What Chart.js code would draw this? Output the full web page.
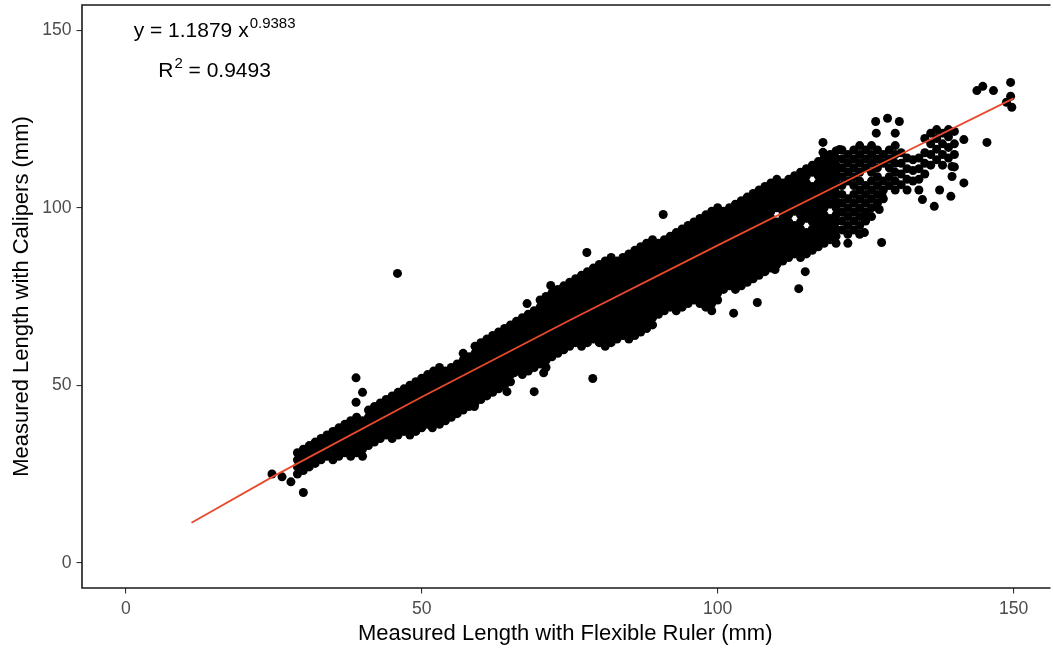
<!DOCTYPE html>
<html>
<head>
<meta charset="utf-8">
<script src="https://cdn.jsdelivr.net/npm/chart.js@4.4.1/dist/chart.umd.min.js"></script>
<style>
html, body { margin: 0; padding: 0; background: #fff; }
</style>
</head>
<body>
<canvas id="chart" width="1053" height="651"></canvas>
<script>
// tick labels
const xTicks = [0, 50, 100, 150];
const yTicks = [0, 50, 100, 150];

// fitted power curve
const fitX = [11.1, 25, 50, 75, 100, 125, 150];
const fitY = [11.3, 24.4, 46.7, 68.3, 89.4, 110.2, 130.8];

// dense cloud, one column per ruler length: [x, y, y, ...]
const cloudCols = [
    [29, 25, 27, 29, 31],
    [30, 26, 28, 30, 32],
    [31, 27, 29, 31, 33],
    [32, 28, 30, 32, 34],
    [33, 29, 31, 33, 35],
    [34, 30, 32, 34, 36],
    [35, 29, 31, 33, 35, 37],
    [36, 30, 32, 34, 36, 38],
    [37, 31, 33, 35, 37, 39],
    [38, 30, 32, 34, 36, 38, 40],
    [39, 31, 33, 35, 37, 39, 41],
    [40, 30, 32, 34, 36, 38, 40],
    [41, 33, 35, 37, 39, 41, 43],
    [42, 34, 36, 38, 40, 42, 44],
    [43, 35, 37, 39, 41, 43, 45],
    [44, 36, 38, 40, 42, 44, 46],
    [45, 35, 37, 39, 41, 43, 45, 47],
    [46, 36, 38, 40, 42, 44, 46, 48],
    [47, 37, 39, 41, 43, 45, 47, 49],
    [48, 36, 38, 40, 42, 44, 46, 48, 50],
    [49, 37, 39, 41, 43, 45, 47, 49, 51],
    [50, 38, 40, 42, 44, 46, 48, 50, 52],
    [51, 39, 41, 43, 45, 47, 49, 51, 53],
    [52, 40, 42, 44, 46, 48, 50, 52, 54],
    [53, 39, 41, 43, 45, 47, 49, 51, 53, 55],
    [54, 40, 42, 44, 46, 48, 50, 52, 54],
    [55, 41, 43, 45, 47, 49, 51, 53, 55],
    [56, 42, 44, 46, 48, 50, 52, 54, 56],
    [57, 43, 45, 47, 49, 51, 53, 55, 57, 59],
    [58, 44, 46, 48, 50, 52, 54, 56, 58],
    [59, 45, 47, 49, 51, 53, 55, 57, 59, 61],
    [60, 46, 48, 50, 52, 54, 56, 58, 60, 62],
    [61, 47, 49, 51, 53, 55, 57, 59, 61, 63],
    [62, 48, 50, 52, 54, 56, 58, 60, 62, 64],
    [63, 49, 51, 53, 55, 57, 59, 61, 63, 65],
    [64, 50, 52, 54, 56, 58, 60, 62, 64, 66],
    [65, 51, 53, 55, 57, 59, 61, 63, 65, 67],
    [66, 54, 56, 58, 60, 62, 64, 66, 68],
    [67, 53, 55, 57, 59, 61, 63, 65, 67, 69],
    [68, 54, 56, 58, 60, 62, 64, 66, 68, 70],
    [69, 55, 57, 59, 61, 63, 65, 67, 69, 71],
    [70, 56, 58, 60, 62, 64, 66, 68, 70, 72, 74],
    [71, 55, 57, 59, 61, 63, 65, 67, 69, 71, 73, 75],
    [72, 58, 60, 62, 64, 66, 68, 70, 72, 74, 76],
    [73, 59, 61, 63, 65, 67, 69, 71, 73, 75, 77],
    [74, 60, 62, 64, 66, 68, 70, 72, 74, 76, 78],
    [75, 61, 63, 65, 67, 69, 71, 73, 75, 77, 79],
    [76, 62, 64, 66, 68, 70, 72, 74, 76, 78, 80],
    [77, 61, 63, 65, 67, 69, 71, 73, 75, 77, 79, 81],
    [78, 62, 64, 66, 68, 70, 72, 74, 76, 78, 80, 82],
    [79, 63, 65, 67, 69, 71, 73, 75, 77, 79, 81, 83],
    [80, 62, 64, 66, 68, 70, 72, 74, 76, 78, 80, 82, 84],
    [81, 61, 63, 65, 67, 69, 71, 73, 75, 77, 79, 81, 83, 85],
    [82, 62, 64, 66, 68, 70, 72, 74, 76, 78, 80, 82, 84, 86],
    [83, 63, 65, 67, 69, 71, 73, 75, 77, 79, 81, 83, 85],
    [84, 64, 66, 68, 70, 72, 74, 76, 78, 80, 82, 84, 86],
    [85, 63, 65, 67, 69, 71, 73, 75, 77, 79, 81, 83, 85, 87],
    [86, 64, 66, 68, 70, 72, 74, 76, 78, 80, 82, 84, 86, 88],
    [87, 65, 67, 69, 71, 73, 75, 77, 79, 81, 83, 85, 87, 89],
    [88, 66, 68, 70, 72, 74, 76, 78, 80, 82, 84, 86, 88, 90],
    [89, 67, 69, 71, 73, 75, 77, 79, 81, 83, 85, 87, 89, 91],
    [90, 70, 72, 74, 76, 78, 80, 82, 84, 86, 88, 90],
    [91, 71, 73, 75, 77, 79, 81, 83, 85, 87, 89, 91],
    [92, 72, 74, 76, 78, 80, 82, 84, 86, 88, 90, 92],
    [93, 71, 73, 75, 77, 79, 81, 83, 85, 87, 89, 91, 93],
    [94, 72, 74, 76, 78, 80, 82, 84, 86, 88, 90, 92, 94],
    [95, 73, 75, 77, 79, 81, 83, 85, 87, 89, 91, 93, 95],
    [96, 74, 76, 78, 80, 82, 84, 86, 88, 90, 92, 94, 96],
    [97, 73, 75, 77, 79, 81, 83, 85, 87, 89, 91, 93, 95, 97],
    [98, 72, 74, 76, 78, 80, 82, 84, 86, 88, 90, 92, 94, 96, 98],
    [99, 71, 73, 75, 77, 79, 81, 83, 85, 87, 89, 91, 93, 95, 97, 99],
    [100, 74, 76, 78, 80, 82, 84, 86, 88, 90, 92, 94, 96, 98, 100],
    [101, 77, 79, 81, 83, 85, 87, 89, 91, 93, 95, 97, 99],
    [102, 78, 80, 82, 84, 86, 88, 90, 92, 94, 96, 98, 100],
    [103, 77, 79, 81, 83, 85, 87, 89, 91, 93, 95, 97, 99, 101],
    [104, 78, 80, 82, 84, 86, 88, 90, 92, 94, 96, 98, 100, 102],
    [105, 79, 81, 83, 85, 87, 89, 91, 93, 95, 97, 99, 101, 103],
    [106, 80, 82, 84, 86, 88, 90, 92, 94, 96, 98, 100, 102, 104],
    [107, 81, 83, 85, 87, 89, 91, 93, 95, 97, 99, 101, 103, 105],
    [108, 82, 84, 86, 88, 90, 92, 94, 96, 98, 100, 102, 104, 106],
    [109, 83, 85, 87, 89, 91, 93, 95, 97, 99, 101, 103, 105, 107],
    [110, 84, 86, 88, 90, 92, 94, 96, 100, 102, 104, 106, 108],
    [111, 85, 87, 89, 91, 93, 95, 97, 99, 101, 103, 105, 107],
    [112, 86, 88, 90, 92, 94, 96, 98, 100, 102, 104, 106, 108],
    [113, 87, 89, 91, 93, 95, 99, 101, 103, 105, 107, 109],
    [114, 86, 88, 90, 92, 94, 96, 98, 100, 102, 104, 106, 108, 110],
    [115, 87, 89, 91, 93, 97, 99, 101, 103, 105, 107, 109, 111],
    [116, 88, 90, 92, 94, 96, 98, 100, 102, 104, 106, 110, 112],
    [117, 89, 91, 93, 95, 97, 99, 101, 103, 105, 107, 109, 111, 113],
    [118, 90, 92, 94, 96, 98, 100, 102, 104, 106, 108, 110, 112, 114],
    [119, 91, 93, 95, 97, 101, 103, 105, 107, 109, 111, 113, 115],
    [120, 90, 92, 94, 96, 98, 100, 102, 104, 106, 108, 110, 112, 114, 116],
    [121, 93.75, 96.25, 98.75, 101.25, 103.75, 106.25, 108.75, 111.25, 113.75, 116.25],
    [122, 90, 92.5, 95, 97.5, 100, 102.5, 107.5, 110, 112.5, 115],
    [123, 93.75, 96.25, 98.75, 101.25, 103.75, 106.25, 108.75, 111.25, 113.75, 116.25],
    [124, 92.5, 95, 97.5, 100, 102.5, 105, 107.5, 110, 112.5, 115, 117.5],
    [125, 96.25, 98.75, 101.25, 103.75, 106.25, 111.25, 113.75, 116.25],
    [126, 97.5, 100, 102.5, 105, 107.5, 110, 112.5, 115, 117.5],
    [127, 101.25, 103.75, 106.25, 108.75, 111.25, 113.75, 116.25],
    [128, 102.5, 105, 107.5, 112.5, 115],
    [129, 106.25, 108.75, 111.25, 113.75, 116.25],
    [130, 105, 107.5, 110, 112.5, 115, 117.5],
    [131, 106.5, 109.5, 112.5, 115.5],
    [132, 105, 108, 111, 114],
    [133, 107.5, 110.5, 113.5],
    [134, 105, 108, 111, 114],
    [135, 109.5, 112.5, 115.5, 119.5],
    [136, 112, 115, 118, 121],
    [137, 113.5, 116.5, 119.5, 122],
    [138, 112, 115, 118, 121],
    [139, 114, 117, 120, 122],
    [140, 111.5, 115, 118, 121.5]
];

// scattered points outside the dense cloud
const strayX = [24.7, 26.4, 27.9, 30, 45.9, 38.9, 40, 38.9, 51.8, 58.9, 64.4, 69, 65.6, 70.6,
    67.8, 71.8, 77.9, 78.9, 90.8, 102.7, 106.7, 113.7, 114.8, 109.7, 127.7, 124.8, 125, 127.3,
    127.8, 117.8, 117.8, 120.6, 126.7, 128.7, 130.7, 130, 126.8, 134.6, 136.6, 139.4, 141.6,
    139.6, 139.6, 137.5, 141.6, 145.5, 143.8, 144.8, 146.6, 149.5, 149.5, 148.8, 149.7];
const strayY = [25, 24.2, 22.8, 19.8, 81.5, 52.1, 48, 45.2, 38, 44, 48.2, 48.2, 53.5, 53.5,
    73, 78.1, 87.4, 51.9, 98.1, 70.3, 73.3, 77.2, 82, 82.6, 90.2, 93, 96.7, 99.5,
    103.2, 118.4, 115.6, 116.4, 124.3, 125.2, 124.3, 121, 121, 102.3, 100.4, 103.2, 107,
    108.8, 111.6, 105, 119.2, 118.4, 133, 134.2, 133, 135.3, 131.4, 129.7, 128.3];

const eqnMain = 'y = 1.1879 x';
const eqnPower = '0.9383';
const r2Label = 'R';
const r2Power = '2';
const r2Value = ' = 0.9493';

const FONT = '"Liberation Sans", Arial, Helvetica, sans-serif';

const cloudPoints = [];
cloudCols.forEach(col => {
    col.slice(1).forEach(y => cloudPoints.push({x: col[0], y: y}));
});
strayX.forEach((x, i) => cloudPoints.push({x: x, y: strayY[i]}));

const fitPoints = fitX.map((x, i) => ({x: x, y: fitY[i]}));

const panelPlugin = {
    id: 'panel',
    afterDraw(chart) {
        const ctx = chart.ctx;
        const area = chart.chartArea;
        const xs = chart.scales.x;
        const ys = chart.scales.y;
        ctx.save();
        ctx.strokeStyle = '#1a1a1a';
        ctx.lineWidth = 1.6;
        ctx.beginPath();
        ctx.moveTo(area.right + 2, area.top);
        ctx.lineTo(area.left, area.top);
        ctx.lineTo(area.left, area.bottom);
        ctx.lineTo(area.right + 2, area.bottom);
        ctx.stroke();

        // equation and R squared, centred over x = 15
        const cx = xs.getPixelForValue(15);
        ctx.fillStyle = '#000';
        ctx.textBaseline = 'alphabetic';
        ctx.textAlign = 'left';

        ctx.font = '21px ' + FONT;
        const w1 = ctx.measureText(eqnMain).width;
        ctx.font = '15px ' + FONT;
        const w2 = ctx.measureText(eqnPower).width;
        let x0 = cx - (w1 + 1 + w2) / 2;
        let base = ys.getPixelForValue(148);
        ctx.font = '21px ' + FONT;
        ctx.fillText(eqnMain, x0, base);
        ctx.font = '15px ' + FONT;
        ctx.fillText(eqnPower, x0 + w1 + 1, base - 9);

        ctx.font = '21px ' + FONT;
        const r1 = ctx.measureText(r2Label).width;
        const r3 = ctx.measureText(r2Value).width;
        ctx.font = '15px ' + FONT;
        const r2 = ctx.measureText(r2Power).width;
        x0 = cx - (r1 + r2 + r3 + 1) / 2;
        base = ys.getPixelForValue(136.7);
        ctx.font = '21px ' + FONT;
        ctx.fillText(r2Label, x0, base);
        ctx.fillText(r2Value, x0 + r1 + r2 + 1, base);
        ctx.font = '15px ' + FONT;
        ctx.fillText(r2Power, x0 + r1 + 1, base - 9);
        ctx.restore();
    }
};

const chart = new Chart(document.getElementById('chart'), {
    type: 'scatter',
    data: {
        datasets: [{
            data: fitPoints,
            showLine: true,
            borderColor: '#ea4a2c',
            borderWidth: 1.8,
            pointRadius: 0,
            tension: 0,
            fill: false,
            order: 0
        }, {
            data: cloudPoints,
            backgroundColor: '#000',
            borderWidth: 0,
            pointRadius: 4.5,
            pointHoverRadius: 4.5,
            order: 1
        }]
    },
    options: {
        responsive: false,
        animation: false,
        devicePixelRatio: 1,
        layout: {padding: {top: 5, right: 0, bottom: 0, left: 0}},
        plugins: {legend: {display: false}, tooltip: {enabled: false}},
        scales: {
            x: {
                type: 'linear',
                min: -7.4,
                max: 155.9,
                afterBuildTicks: s => { s.ticks = xTicks.map(v => ({value: v})); },
                afterFit: s => { s.height = 63; s.paddingLeft = 0; s.paddingRight = 0; },
                grid: {drawOnChartArea: false, drawTicks: true, tickLength: 5.5, color: '#333', lineWidth: 1.1},
                border: {display: false},
                ticks: {color: '#4d4d4d', font: {family: FONT, size: 17.6}, padding: 5, maxRotation: 0, autoSkip: false},
                title: {display: true, text: 'Measured Length with Flexible Ruler (mm)', color: '#000',
                    font: {family: FONT, size: 22}, padding: {top: 0, bottom: 3.5}}
            },
            y: {
                type: 'linear',
                min: -7.1,
                max: 157.1,
                afterBuildTicks: s => { s.ticks = yTicks.map(v => ({value: v})); },
                afterFit: s => { s.width = 82; s.paddingTop = 0; s.paddingBottom = 0; },
                grid: {drawOnChartArea: false, drawTicks: true, tickLength: 5.5, color: '#333', lineWidth: 1.1},
                border: {display: false},
                ticks: {color: '#4d4d4d', font: {family: FONT, size: 17.6}, padding: 5, autoSkip: false},
                title: {display: true, text: 'Measured Length with Calipers (mm)', color: '#000',
                    font: {family: FONT, size: 22}, padding: {top: 8.3, bottom: 0}}
            }
        }
    },
    plugins: [panelPlugin]
});
</script>
</body>
</html>
